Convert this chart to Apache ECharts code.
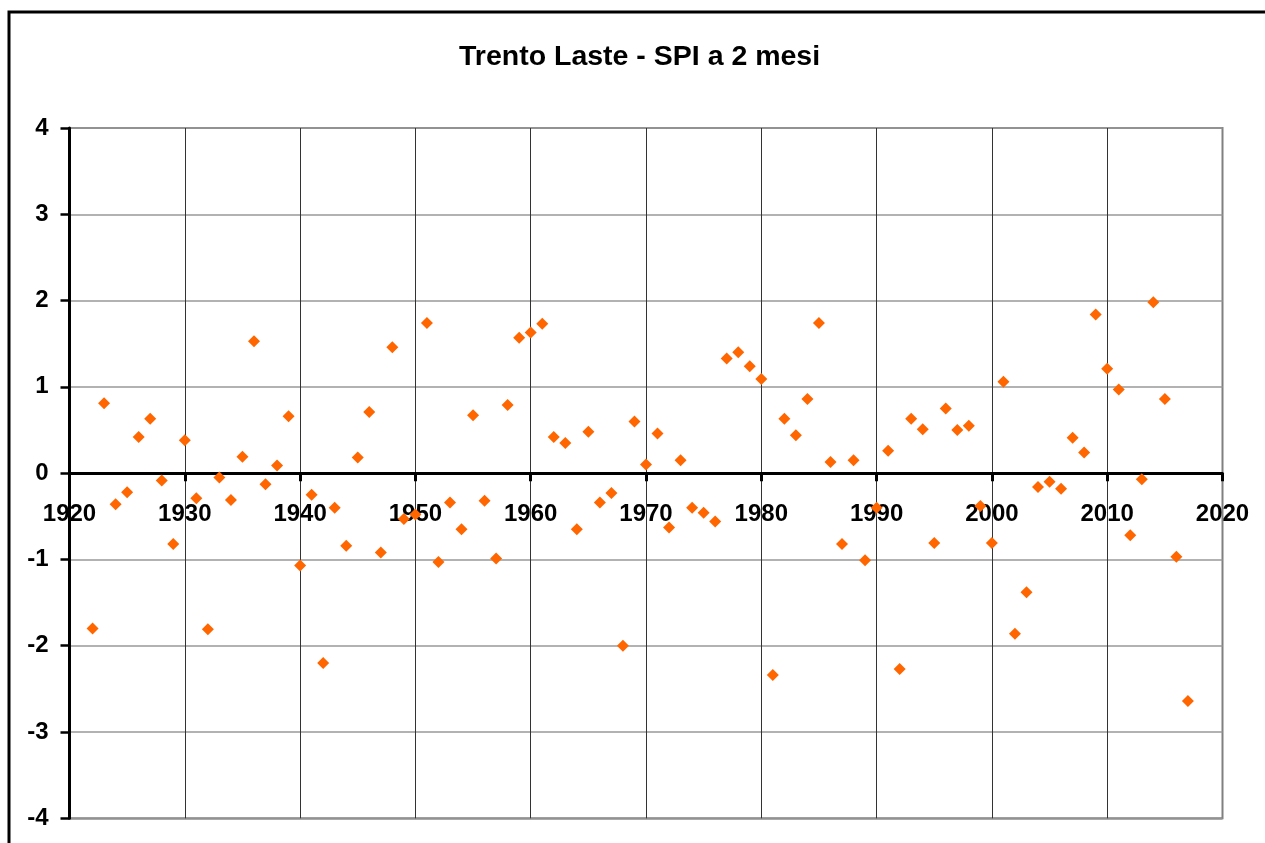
<!DOCTYPE html>
<html>
<head>
<meta charset="utf-8">
<script src="https://cdn.jsdelivr.net/npm/echarts@6/dist/echarts.min.js"></script>
<style>
html,body{margin:0;padding:0;background:#fff;}
#chart{width:1265px;height:843px;}
</style>
</head>
<body>
<div id="chart"></div>
<script>
const title = 'Trento Laste - SPI a 2 mesi';
const years = [1922,1923,1924,1925,1926,1927,1928,1929,1930,1931,1932,1933,1934,1935,1936,1937,1938,1939,
  1940,1941,1942,1943,1944,1945,1946,1947,1948,1949,1950,1951,1952,1953,1954,1955,1956,1957,1958,1959,
  1960,1961,1962,1963,1964,1965,1966,1967,1968,1969,1970,1971,1972,1973,1974,1975,1976,1977,1978,1979,
  1980,1981,1982,1983,1984,1985,1986,1987,1988,1989,1990,1991,1992,1993,1994,1995,1996,1997,1998,1999,
  2000,2001,2002,2003,2004,2005,2006,2007,2008,2009,2010,2011,2012,2013,2014,2015,2016,2017];
const spi = [-1.80,0.81,-0.36,-0.22,0.42,0.63,-0.085,-0.82,0.38,-0.29,-1.81,-0.05,-0.31,0.19,1.53,-0.13,0.09,0.66,
  -1.07,-0.25,-2.20,-0.40,-0.84,0.18,0.71,-0.92,1.46,-0.53,-0.48,1.74,-1.03,-0.34,-0.65,0.67,-0.32,-0.99,0.79,1.57,
  1.63,1.73,0.42,0.35,-0.65,0.48,-0.34,-0.23,-2.00,0.60,0.10,0.46,-0.63,0.15,-0.40,-0.46,-0.56,1.33,1.40,1.24,
  1.09,-2.34,0.63,0.44,0.86,1.74,0.13,-0.82,0.15,-1.01,-0.40,0.26,-2.27,0.63,0.51,-0.81,0.75,0.50,0.55,-0.38,
  -0.81,1.06,-1.86,-1.38,-0.16,-0.10,-0.18,0.41,0.24,1.84,1.21,0.97,-0.72,-0.07,1.98,0.86,-0.97,-2.64];
const xMin = 1920, xMax = 2020, xStep = 10;
const yMin = -4, yMax = 4, yStep = 1;

const gridTop = 128, gridBottom = 24.7, chartH = 843;
const plotH = chartH - gridTop - gridBottom;
// distance of y=0 from plot bottom (computed through the value range)
const zeroOffset = plotH * (0 - yMin) / (yMax - yMin);

const points = years.map((y, i) => [y, spi[i]]);
const chart = echarts.init(document.getElementById('chart'), null, {renderer: 'canvas'});
const font = 'Liberation Sans, Arial, sans-serif';
chart.setOption({
  animation: false,
  backgroundColor: '#fff',
  title: {
    text: title, left: 454, top: 38,
    textStyle: {fontFamily: font, fontWeight: 'bold', fontSize: 28.5, color: '#000'}
  },
  graphic: [{
    type: 'rect', shape: {x: 9, y: 12, width: 1320, height: 900},
    style: {fill: 'none', stroke: '#000', lineWidth: 3}, silent: true, z: 100
  }],
  grid: {
    left: 69.5, right: 42.5, top: gridTop, bottom: gridBottom,
    outerBoundsMode: 'none', containLabel: false,
    show: true, borderColor: '#808080', borderWidth: 2, backgroundColor: '#fff'
  },
  xAxis: {
    type: 'value', min: xMin, max: xMax, interval: xStep,
    position: 'bottom', offset: -zeroOffset,
    axisLine: {show: true, onZero: false, lineStyle: {color: '#000', width: 3}},
    axisTick: {show: true, inside: false, length: 8, lineStyle: {color: '#000', width: 3}},
    axisLabel: {margin: 29, fontFamily: font, fontWeight: 'bold', fontSize: 24, color: '#000',
      formatter: v => String(v)},
    splitLine: {show: true, showMaxLine: false, lineStyle: {color: '#333', width: 1}}
  },
  yAxis: {
    type: 'value', min: yMin, max: yMax, interval: yStep,
    axisLine: {show: true, onZero: false, lineStyle: {color: '#000', width: 3}},
    axisTick: {show: true, inside: false, length: 9, lineStyle: {color: '#000', width: 2.5}},
    axisLabel: {margin: 21, fontFamily: font, fontWeight: 'bold', fontSize: 24, color: '#000'},
    splitLine: {show: true, lineStyle: {color: '#999', width: 1.5}}
  },
  series: [{
    type: 'scatter', data: points, symbol: 'diamond', symbolSize: 12,
    itemStyle: {color: '#FF6600', opacity: 1}, z: 5
  }]
});
</script>
</body>
</html>
